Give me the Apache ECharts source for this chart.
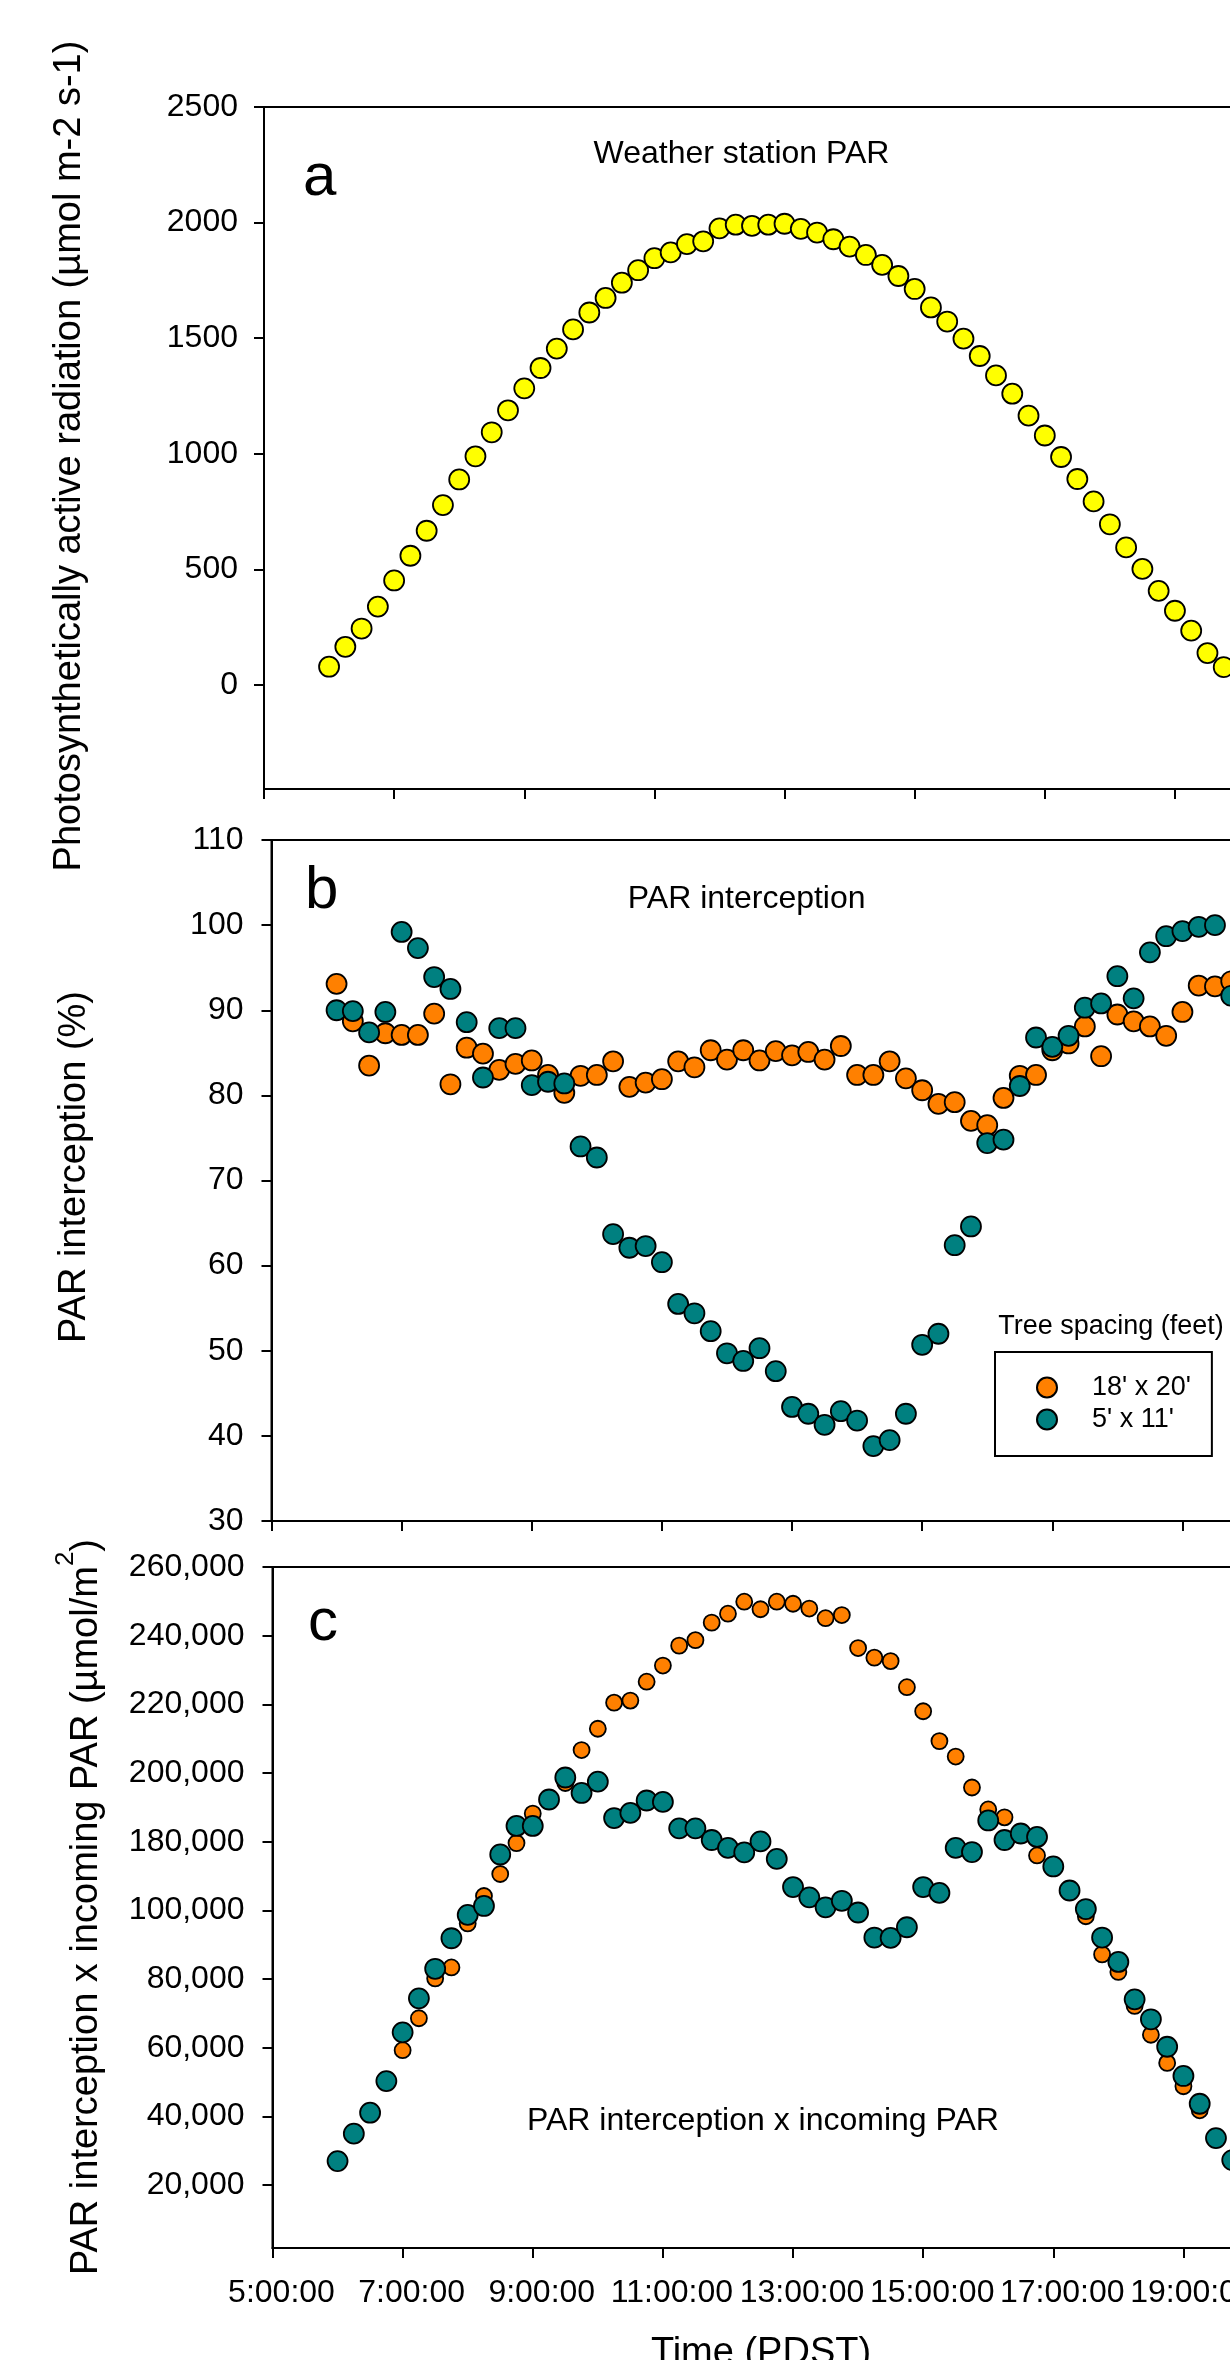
<!DOCTYPE html>
<html>
<head>
<meta charset="utf-8">
<script src="https://cdn.jsdelivr.net/npm/echarts@6/dist/echarts.min.js"></script>
<style>
html,body{margin:0;padding:0;background:#fff;overflow:hidden}
#chart{width:1230px;height:2360px}
</style>
</head>
<body>
<div id="chart"></div>
<script>
// ---------- data ----------
const times = ['6:00','6:15','6:30','6:45','7:00','7:15','7:30','7:45','8:00','8:15','8:30','8:45',
  '9:00','9:15','9:30','9:45','10:00','10:15','10:30','10:45','11:00','11:15','11:30','11:45',
  '12:00','12:15','12:30','12:45','13:00','13:15','13:30','13:45','14:00','14:15','14:30','14:45',
  '15:00','15:15','15:30','15:45','16:00','16:15','16:30','16:45','17:00','17:15','17:30','17:45',
  '18:00','18:15','18:30','18:45','19:00','19:15','19:30','19:45'];

const stationPAR = [79,165,244,339,452,559,667,778,889,989,1093,1188,1283,1371,1455,1538,1611,1674,1740,1794,
  1846,1871,1907,1919,1975,1991,1986,1991,1995,1973,1957,1928,1896,1860,1817,1769,1713,1633,1572,1498,
  1423,1339,1260,1165,1079,986,891,794,695,595,502,407,321,235,138,77];

const intercept18x20 = [93.1,88.7,83.5,87.3,87.1,87.1,89.6,81.3,85.6,84.9,83.0,83.7,84.1,82.4,80.3,82.3,82.4,84.0,81.0,81.5,
  81.9,84.0,83.3,85.3,84.2,85.3,84.1,85.2,84.7,85.1,84.2,85.8,82.4,82.4,84.0,82.0,80.6,79.0,79.2,77.0,
  76.5,79.7,82.3,82.4,85.3,86.1,88.1,84.6,89.5,88.7,88.1,87.0,89.8,92.9,92.8,93.4];

const intercept5x11 = [90.0,89.9,87.4,89.8,99.2,97.3,93.9,92.5,88.6,82.1,87.9,87.9,81.2,81.6,81.4,74.0,72.7,63.7,62.1,62.3,
  60.4,55.5,54.4,52.3,49.7,48.8,50.3,47.6,43.4,42.6,41.3,42.9,41.8,38.8,39.5,42.6,50.7,52.0,62.4,64.6,
  74.4,74.8,81.1,86.8,85.7,87.0,90.3,90.8,94.0,91.4,96.8,98.7,99.3,99.8,100.0,91.7];

const product18x20 = [27000,35000,41000,50300,59300,68600,80200,83400,96200,116800,142400,178400,188200,192300,197100,206700,212900,220500,221100,226600,
  231300,237100,238700,243800,246400,249900,247700,249900,249300,247900,245100,246000,236400,233600,232600,225000,218000,209300,204800,195800,
  189400,187100,182400,164000,151200,123200,98300,87200,82100,72200,63800,55600,48800,41800,33700,27300];

const product5x11 = [27000,35000,41100,50300,64500,74400,83000,91900,98700,105200,165200,184600,184600,192300,198700,194200,197500,186900,188400,192000,
  191600,183900,183900,180500,172800,167600,180100,160000,127200,115200,103600,111200,99400,92100,92000,95100,127200,120400,172800,168000,
  186200,180500,182400,181400,151200,123200,101600,92100,85000,74100,68300,60300,51800,43700,33700,27300];

const timeTickLabels = ['5:00:00','7:00:00','9:00:00','11:00:00','13:00:00','15:00:00','17:00:00','19:00:00'];
const parTickValues = [0,500,1000,1500,2000,2500];
const productTickValues = [20000,40000,60000,80000,100000,180000,200000,220000,240000,260000];
const productTickLabels = ['20,000','40,000','60,000','80,000','100,000','180,000','200,000','220,000','240,000','260,000'];
const seriesNames = ["18' x 20'", "5' x 11'"];

// ---------- helpers ----------
const FONT = '"Liberation Sans", Arial, Helvetica, sans-serif';
const START_MIN = 300; // axis starts at 5:00
function toX(t){ const p = t.split(':'); return (+p[0])*60 + (+p[1]) - START_MIN; }
// the printed y axis of panel c jumps from 100,000 to 180,000 in one tick step
function toAxisC(v){
  if (v <= 100000) return v;
  if (v >= 180000) return v - 60000;
  return 100000 + (v - 100000) / 4;
}
const xTickValues = timeTickLabels.map(toX);
const xLabelOf = {}; xTickValues.forEach((v,i)=>{ xLabelOf[v] = timeTickLabels[i]; });
const cTickPos = productTickValues.map(toAxisC);
const cLabelOf = {}; cTickPos.forEach((v,i)=>{ cLabelOf[v] = productTickLabels[i]; });

const ORANGE = '#FF8000', TEAL = '#008080', YELLOW = '#FFFF00';
const axisLineStyle = {color:'#000', width:2};

function xAxisFor(idx, showLabels){
  return {
    type:'value', gridIndex: idx, min: 0, max: 900,
    axisLine:{show:true, onZero:false, lineStyle:axisLineStyle},
    axisTick:{show:true, inside:false, length:10, lineStyle:axisLineStyle, customValues: xTickValues},
    axisLabel:{show: showLabels, customValues: xTickValues, formatter: v => xLabelOf[v] || '',
      fontSize:32, color:'#000', fontFamily:FONT, margin:29, padding:[0,0,0,18]},
    splitLine:{show:false}
  };
}
function yAxisBase(idx){
  return {
    type:'value', gridIndex: idx,
    axisLine:{show:true, onZero:false, lineStyle:axisLineStyle},
    axisTick:{show:true, inside:false, length:10, lineStyle:axisLineStyle},
    axisLabel:{fontSize:32, color:'#000', fontFamily:FONT, margin:28},
    splitLine:{show:false}
  };
}
const yA = yAxisBase(0);
yA.min = -450; yA.max = 2500;
yA.axisTick.customValues = parTickValues;
yA.axisLabel.customValues = parTickValues;
yA.axisLabel.formatter = v => String(v);
yA.axisLabel.margin = 26;

const yB = yAxisBase(1);
yB.min = 30; yB.max = 110; yB.interval = 10;
yB.axisLabel.formatter = v => String(v);

const yC = yAxisBase(2);
yC.min = 1700; yC.max = 200000;
yC.axisTick.customValues = cTickPos;
yC.axisLabel.customValues = cTickPos;
yC.axisLabel.formatter = v => cLabelOf[v] || '';

function pts(arr, f){ return times.map((t,i)=>[toX(t), f ? f(arr[i]) : arr[i]]); }
function sc(name, xi, data, color, size){
  return {type:'scatter', name, xAxisIndex:xi, yAxisIndex:xi, data, symbol:'circle', symbolSize:size,
    itemStyle:{color, borderColor:'#000', borderWidth:1.8, opacity:1}, emphasis:{disabled:true}};
}

const gridBase = {show:true, borderColor:'#000', borderWidth:2, backgroundColor:'transparent', containLabel:false, outerBoundsMode:'none'};

function txt(x, y, text, size, extra){
  return Object.assign({type:'text', x, y, silent:true, style:Object.assign({
    text, fill:'#000', font: size + 'px ' + FONT, fontSize:size, fontFamily:FONT,
    align:'center', textAlign:'center', verticalAlign:'middle', textVerticalAlign:'middle'}, (extra && extra.style) || {})},
    extra && extra.rotation ? {rotation: extra.rotation} : {});
}
function letter(x, y, t){
  return {type:'text', x, y, silent:true, style:{text:t, fill:'#000', font:'60px ' + FONT, fontSize:60, fontFamily:FONT,
    align:'left', textAlign:'left', verticalAlign:'middle', textVerticalAlign:'middle'}};
}

const option = {
  animation:false,
  backgroundColor:'#fff',
  grid:[
    Object.assign({left:264, top:107, width:976, height:682}, gridBase),
    Object.assign({left:271.5, top:840, width:976, height:681}, gridBase),
    Object.assign({left:272.5, top:1567, width:976, height:681}, gridBase)
  ],
  xAxis:[xAxisFor(0,false), xAxisFor(1,false), xAxisFor(2,true)],
  yAxis:[yA, yB, yC],
  legend:{
    data: seriesNames, orient:'vertical', left:995, top:1352,
    padding:[22,21,23,41], itemWidth:80, itemHeight:20, itemGap:5,
    icon:'circle', borderColor:'#000', borderWidth:2, backgroundColor:'#fff',
    selectedMode:false,
    textStyle:{fontSize:27, color:'#000', fontFamily:FONT}
  },
  series:[
    sc('Weather station PAR', 0, pts(stationPAR), YELLOW, 20),
    sc(seriesNames[0], 1, pts(intercept18x20), ORANGE, 20),
    sc(seriesNames[1], 1, pts(intercept5x11), TEAL, 20),
    sc(seriesNames[0], 2, pts(product18x20, toAxisC), ORANGE, 16),
    sc(seriesNames[1], 2, pts(product5x11, toAxisC), TEAL, 20)
  ],
  graphic:{elements:[
    letter(303, 178, 'a'),
    letter(305, 891, 'b'),
    letter(308, 1623, 'c'),
    txt(741.5, 154, 'Weather station PAR', 32),
    txt(746.7, 899, 'PAR interception', 32),
    txt(763, 2121.5, 'PAR interception x incoming PAR', 32),
    txt(1111, 1326.6, 'Tree spacing (feet)', 27),
    txt(761, 2354, 'Time (PDST)', 38),
    txt(69.8, 456, 'Photosynthetically active radiation (\u00b5mol m-2 s-1)', 38, {rotation:Math.PI/2}),
    txt(74.8, 1167, 'PAR interception (%)', 38, {rotation:Math.PI/2}),
    {type:'text', x:79.4, y:1907, rotation:Math.PI/2, silent:true, style:{
      text:'{m|PAR interception x incoming PAR (\u00b5mol/m}{s|2}{m|)}',
      fill:'#000', font:'38px ' + FONT, fontSize:38, fontFamily:FONT,
      align:'center', textAlign:'center', verticalAlign:'middle', textVerticalAlign:'middle',
      rich:{
        m:{fontSize:38, fontFamily:FONT, fill:'#000', verticalAlign:'bottom'},
        s:{fontSize:26, fontFamily:FONT, fill:'#000', verticalAlign:'bottom', padding:[0,0,26.8,0]}
      }
    }}
  ]}
};

const chart = echarts.init(document.getElementById('chart'), null, {renderer:'canvas', width:1230, height:2360});
chart.setOption(option);
</script>
</body>
</html>
